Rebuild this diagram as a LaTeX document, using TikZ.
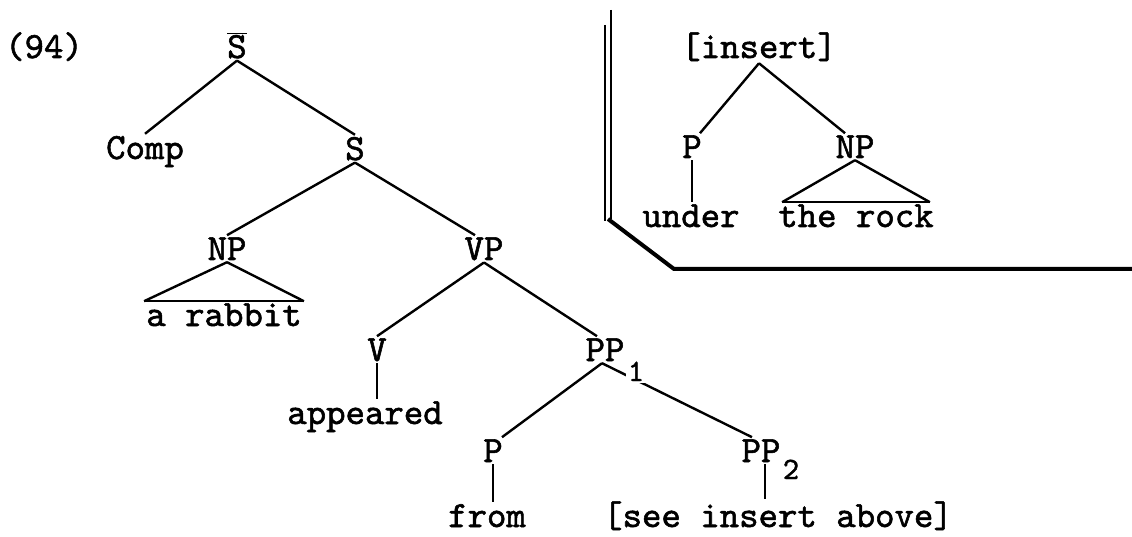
\documentclass[tikz,border=0pt]{standalone}
\usepackage{fontspec}
\newfontfamily\tw{lmmono10-regular.otf}[FakeBold=1.5]
\begin{document}
\begin{tikzpicture}[x=1pt,y=-1pt,
  lbl/.style={inner sep=2pt, anchor=base, font=\tw\fontsize{37}{40}\selectfont},
  sub/.style={inner sep=1.5pt, anchor=base, fill=white, font=\tw\fontsize{31}{34}\selectfont},
  edge/.style={line width=2.4pt},
  rule/.style={line width=2pt}]
\useasboundingbox (0,0) rectangle (1132,537);
% main tree
\node[lbl] (num) at (44,58) {(94)};
\node[lbl] (Sbar) at (237,58) {$\overline{\hbox{S}}$};
\node[lbl] (Comp) at (145,159) {Comp};
\node[lbl] (S) at (355,160) {S};
\node[lbl] (NP) at (227,260) {NP};
\node[lbl] (VP) at (484,260) {VP};
\node[lbl] (rabbit) at (224,326) {a rabbit};
\node[lbl] (V) at (377,361) {V};
\node[lbl] (appeared) at (365,424) {appeared};
\node[lbl] (PP1) at (605,361) {PP};
\node[lbl] (P) at (493,462) {P};
\node[lbl] (from) at (487,527) {from};
\node[lbl] (PP2) at (761,462) {PP};
\node[lbl] (see) at (778,527) {[see insert above]};
\draw[edge] (Sbar.south) -- (Comp.north);
\draw[edge] (Sbar.south) -- (S.north);
\draw[edge] (S.south) -- (NP.north);
\draw[edge] (S.south) -- ([xshift=-9pt]VP.north);
\draw[edge] (NP.south) -- (rabbit.north west);
\draw[edge] (NP.south) -- (rabbit.north east);
\draw[edge] (rabbit.north west) -- (rabbit.north east);
\draw[edge] (VP.south) -- (V.north);
\draw[edge] (VP.south) -- ([xshift=-8pt]PP1.north);
\draw[edge] (V.south) -- (V.south |- appeared.north);
\draw[edge] ([xshift=-3pt]PP1.south) -- ([xshift=9pt]P.north);
\draw[edge] ([xshift=-3pt]PP1.south) -- ([xshift=-9pt]PP2.north);
\draw[edge] (P.south) -- (P.south |- from.north);
\draw[edge] ([xshift=4pt]PP2.south) -- ([xshift=4pt]PP2.south |- see.north);
\node[sub] (s1) at (636,381) {1};
\node[sub] (s2) at (791,479) {2};
% insert tree
\node[lbl] (ins) at (759,58) {[insert]};
\node[lbl] (Pi) at (692,158) {P};
\node[lbl] (NPi) at (855,158) {NP};
\node[lbl] (under) at (691,227) {under};
\node[lbl] (rock) at (856,227) {the rock};
\draw[edge] (ins.south) -- ([xshift=8pt]Pi.north);
\draw[edge] (ins.south) -- ([xshift=-10pt]NPi.north);
\draw[edge] (Pi.south) -- (Pi.south |- under.north);
\draw[edge] (NPi.south) -- ([xshift=6pt]rock.north west);
\draw[edge] (NPi.south) -- ([xshift=-6pt]rock.north east);
\draw[edge] ([xshift=6pt]rock.north west) -- ([xshift=-6pt]rock.north east);
% frame
\coordinate (f1) at (611,10);
\coordinate (f2) at (611,219);
\coordinate (g1) at (605,25);
\coordinate (g2) at (605,221);
\coordinate (c1) at (608,219);
\coordinate (c2) at (674,269);
\coordinate (c3) at (1132,269);
\draw[rule] (f1) -- (f2);
\draw[rule] (g1) -- (g2);
\draw[line width=4pt, line join=miter] (c1) -- (c2) -- (c3);
\end{tikzpicture}
\end{document}
